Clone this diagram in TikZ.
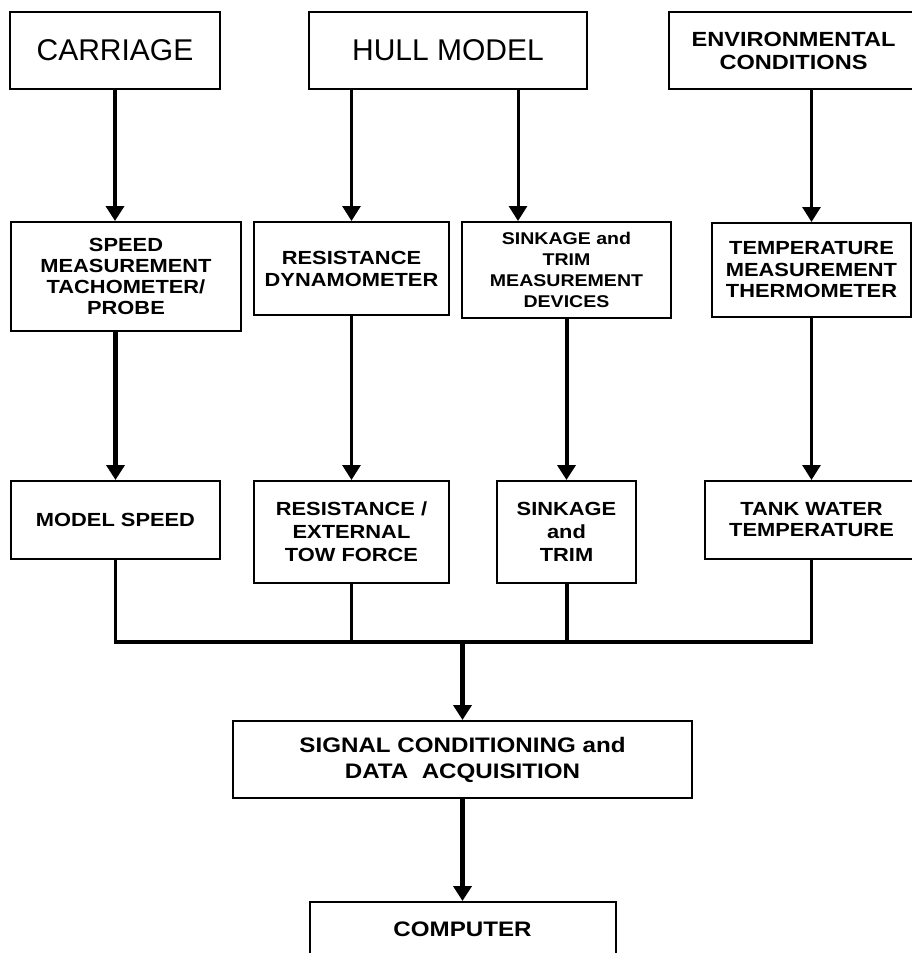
\documentclass[tikz,border=0pt]{standalone}
\usepackage{fontspec}
\setmainfont{Liberation Sans}
\newfontfamily\blockfont[FakeStretch=1.15]{Liberation Sans}
\usetikzlibrary{arrows.meta}

\begin{document}
\begin{tikzpicture}[x=1pt, y=-1pt]
    \useasboundingbox (0, 0) rectangle (912, 953);

    \begin{scope}[every node/.style={draw, line width=2pt, inner sep=0pt, align=center,
            font=\blockfont\bfseries\fontsize{19}{22}\selectfont}]
        % top row
        \node[minimum width=210pt, minimum height=77pt, font=\normalfont\fontsize{30}{34}\selectfont]
            (carriage) at (115, 50.5) {CARRIAGE};
        \node[minimum width=278pt, minimum height=77pt, font=\normalfont\fontsize{30}{34}\selectfont]
            (hull) at (448, 50.5) {HULL MODEL};
        \node[minimum width=249pt, minimum height=77pt, font=\blockfont\bfseries\fontsize{20.5}{23}\selectfont]
            (env) at (793.5, 50.5) {ENVIRONMENTAL\\CONDITIONS};

        % measuring devices
        \node[minimum width=230pt, minimum height=109pt, font=\blockfont\bfseries\fontsize{19}{21}\selectfont]
            (speedmeas) at (126, 276.5) {SPEED\\MEASUREMENT\\TACHOMETER/\\PROBE};
        \node[minimum width=195pt, minimum height=93pt]
            (resdyn) at (351.5, 268.5) {RESISTANCE\\DYNAMOMETER};
        \node[minimum width=209pt, minimum height=96pt, font=\blockfont\bfseries\fontsize{17}{21}\selectfont]
            (sinkmeas) at (566.5, 270) {SINKAGE and\\TRIM\\MEASUREMENT\\DEVICES};
        \node[minimum width=199pt, minimum height=94pt, font=\blockfont\bfseries\fontsize{19}{21.5}\selectfont]
            (tempmeas) at (811.5, 270) {TEMPERATURE\\MEASUREMENT\\THERMOMETER};

        % measured quantities
        \node[minimum width=209pt, minimum height=78pt]
            (modelspeed) at (115.5, 520) {MODEL SPEED};
        \node[minimum width=195pt, minimum height=102pt, font=\blockfont\bfseries\fontsize{19}{23}\selectfont]
            (restow) at (351.5, 532) {RESISTANCE /\\EXTERNAL\\TOW FORCE};
        \node[minimum width=139pt, minimum height=102pt, font=\blockfont\bfseries\fontsize{19}{23}\selectfont]
            (sinktrim) at (566.5, 532) {SINKAGE\\and\\TRIM};
        \node[minimum width=213pt, minimum height=78pt, font=\blockfont\bfseries\fontsize{19}{21}\selectfont]
            (tankwater) at (811.5, 520) {TANK WATER\\TEMPERATURE};

        % acquisition chain
        \node[minimum width=459pt, minimum height=77pt, font=\blockfont\bfseries\fontsize{21}{26}\selectfont]
            (signal) at (462.5, 759.5) {SIGNAL CONDITIONING and\\DATA\ \ ACQUISITION};
        \node[minimum width=306pt, minimum height=55pt, font=\blockfont\bfseries\fontsize{21}{24}\selectfont]
            (computer) at (462.5, 929.5) {COMPUTER};
    \end{scope}

    \begin{scope}[>={Triangle[width=18pt, length=15pt]}, line width=3pt]
        \draw[->, line width=4.5pt] (carriage.south) -- (carriage.south |- speedmeas.north);
        \draw[->] (hull.south -| resdyn.north) -- (resdyn.north);
        \draw[->] ([xshift=70pt] hull.south) -- ([xshift=70pt] hull.south |- sinkmeas.north);
        \draw[->] (env.south -| tempmeas.north) -- (tempmeas.north);

        \draw[->, line width=4.5pt] (speedmeas.south -| modelspeed.north) -- (modelspeed.north);
        \draw[->] (resdyn.south) -- (restow.north);
        \draw[->, line width=4pt] (sinkmeas.south) -- (sinktrim.north);
        \draw[->] (tempmeas.south) -- (tankwater.north);

        % collecting bus
        \coordinate (junction) at (462.5, 642);
        \draw[line width=3.5pt] (modelspeed.south) |- (junction) -| (tankwater.south);
        \draw (restow.south) -- (restow.south |- junction);
        \draw[line width=4pt] (sinktrim.south) -- (sinktrim.south |- junction);
        \draw[->, line width=4.5pt] (junction) -- (signal.north);
        \draw[->, line width=4.5pt] (signal.south) -- (computer.north);
    \end{scope}
\end{tikzpicture}
\end{document}
